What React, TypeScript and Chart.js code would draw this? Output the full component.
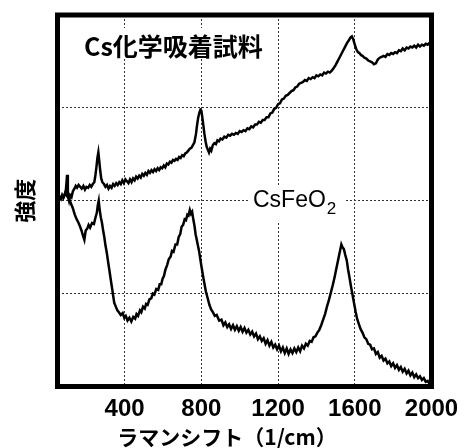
import React, { useEffect, useRef } from "react";
import { Chart, registerables } from "chart.js";

Chart.register(...registerables);

// ---- data ----
const xTickValues = [400, 800, 1200, 1600, 2000];
const yGridValues = [0, 1, 2, 3, 4];

const sampleLabel = "Cs化学吸着試料";
const csfeo2Label = "CsFeO";
const csfeo2Sub = "2";
const xTitle = "ラマンシフト（1/cm）";
const yTitle = "強度";

// Cs chemisorbed sample (upper trace)
const sampleShift = [
  55, 62, 68, 74, 80, 88, 94, 100, 104, 110, 116, 123, 130, 138, 145, 152, 160, 168, 176, 185,
  193, 201, 210, 218, 226, 234, 242, 248, 254, 258, 263, 268, 273, 278, 284, 292, 300, 308, 316, 324,
  332, 340, 348, 356, 364, 372, 380, 388, 396, 404, 412, 420, 428, 436, 444, 452, 460, 468, 476, 484,
  492, 500, 508, 516, 524, 532, 540, 548, 556, 564, 572, 580, 588, 596, 604, 612, 620, 628, 636, 644,
  652, 660, 668, 676, 684, 692, 700, 708, 716, 724, 732, 740, 748, 756, 764, 772, 778, 784, 790, 795,
  800, 805, 810, 816, 822, 828, 834, 840, 846, 852, 860, 868, 876, 884, 892, 900, 910, 920, 930, 940,
  950, 960, 970, 980, 990, 1000, 1010, 1020, 1030, 1040, 1050, 1060, 1070, 1080, 1090, 1100, 1110, 1120, 1130, 1140,
  1150, 1160, 1170, 1180, 1190, 1200, 1210, 1220, 1230, 1240, 1250, 1260, 1270, 1280, 1290, 1300, 1310, 1320, 1330, 1340,
  1350, 1360, 1370, 1380, 1390, 1400, 1410, 1420, 1430, 1440, 1450, 1460, 1470, 1480, 1490, 1500, 1510, 1520, 1530, 1540,
  1550, 1560, 1570, 1578, 1585, 1592, 1600, 1608, 1616, 1624, 1632, 1640, 1650, 1660, 1670, 1680, 1690, 1700, 1710, 1720,
  1730, 1740, 1750, 1760, 1770, 1780, 1790, 1800, 1810, 1820, 1830, 1840, 1850, 1860, 1870, 1880, 1890, 1900, 1910, 1920,
  1930, 1940, 1950, 1960, 1970, 1980, 1990, 2000,
];
const sampleIntensity = [
  2.02, 2.04, 2.02, 2.06, 2.03, 2.07, 2.12, 2.28, 2.05, 2.0, 2.06, 2.04, 2.1, 2.13, 2.16, 2.14, 2.17, 2.15, 2.13, 2.16,
  2.12, 2.15, 2.14, 2.17, 2.15, 2.18, 2.2, 2.28, 2.38, 2.46, 2.52, 2.42, 2.32, 2.24, 2.2, 2.18, 2.15, 2.17, 2.13, 2.16,
  2.14, 2.18, 2.16, 2.19, 2.17, 2.2, 2.18, 2.22, 2.19, 2.23, 2.21, 2.19, 2.23, 2.2, 2.24, 2.22, 2.26, 2.24, 2.27, 2.25,
  2.29, 2.27, 2.3, 2.28, 2.32, 2.3, 2.33, 2.31, 2.34, 2.32, 2.35, 2.33, 2.36, 2.35, 2.38, 2.36, 2.4, 2.39, 2.42, 2.41,
  2.44, 2.43, 2.45, 2.44, 2.47, 2.46, 2.49, 2.48, 2.51, 2.52, 2.54, 2.56, 2.57, 2.6, 2.63, 2.72, 2.82, 2.9, 2.95, 2.98,
  2.97, 2.9, 2.82, 2.72, 2.64, 2.58, 2.55, 2.52, 2.56, 2.54, 2.6, 2.62, 2.61, 2.65, 2.64, 2.67, 2.66, 2.69, 2.68, 2.71,
  2.7, 2.72, 2.71, 2.73, 2.72, 2.75, 2.74, 2.76, 2.75, 2.78, 2.77, 2.8, 2.79, 2.82, 2.82, 2.85, 2.84, 2.87, 2.87, 2.9,
  2.9, 2.94, 2.95, 2.99, 3.0, 3.04, 3.05, 3.09, 3.1, 3.13, 3.14, 3.16, 3.18, 3.19, 3.22, 3.23, 3.26, 3.27, 3.28, 3.3,
  3.29, 3.32, 3.31, 3.33, 3.32, 3.35, 3.34, 3.36, 3.35, 3.38, 3.37, 3.39, 3.38, 3.4, 3.43, 3.46, 3.5, 3.54, 3.58, 3.62,
  3.66, 3.7, 3.73, 3.76, 3.77, 3.74, 3.68, 3.63, 3.6, 3.59, 3.57, 3.56, 3.54, 3.53, 3.51, 3.5, 3.49, 3.47, 3.48, 3.52,
  3.54, 3.55, 3.56, 3.55, 3.58, 3.57, 3.59, 3.58, 3.6, 3.59, 3.62, 3.61, 3.64, 3.62, 3.65, 3.64, 3.66, 3.65, 3.67, 3.65,
  3.68, 3.66, 3.68, 3.67, 3.69, 3.68, 3.7, 3.69,
];

// CsFeO2 reference (lower trace)
const csfeo2Shift = [
  50, 60, 70, 80, 90, 100, 110, 120, 130, 140, 150, 160, 168, 175, 182, 190, 197, 205, 212, 220,
  230, 240, 248, 255, 260, 265, 270, 276, 282, 288, 294, 300, 307, 314, 320, 327, 333, 340, 346, 354,
  362, 370, 380, 390, 398, 406, 415, 425, 435, 445, 455, 462, 470, 480, 487, 496, 505, 512, 520, 530,
  539, 547, 555, 565, 575, 583, 591, 598, 605, 613, 622, 630, 640, 647, 655, 665, 674, 682, 690, 697,
  705, 713, 720, 727, 733, 740, 746, 752, 758, 765, 770, 775, 781, 788, 794, 800, 808, 815, 824, 833,
  842, 851, 860, 870, 880, 893, 905, 915, 925, 935, 945, 955, 965, 975, 985, 995, 1005, 1015, 1025, 1035,
  1045, 1055, 1065, 1075, 1085, 1095, 1105, 1115, 1125, 1135, 1145, 1155, 1165, 1175, 1185, 1195, 1205, 1215, 1225, 1235,
  1245, 1255, 1265, 1275, 1285, 1295, 1305, 1315, 1325, 1335, 1345, 1355, 1365, 1375, 1385, 1395, 1405, 1415, 1425, 1435,
  1445, 1455, 1465, 1475, 1485, 1495, 1505, 1515, 1522, 1530, 1536, 1543, 1550, 1558, 1565, 1572, 1580, 1588, 1596, 1604,
  1612, 1620, 1630, 1640, 1650, 1660, 1670, 1680, 1690, 1700, 1710, 1720, 1730, 1740, 1750, 1760, 1770, 1780, 1790, 1800,
  1810, 1820, 1830, 1840, 1850, 1860, 1870, 1880, 1890, 1900, 1910, 1920, 1930, 1940, 1950, 1960, 1970, 1980, 1990, 2000,
];
const csfeo2Intensity = [
  2.0, 2.01, 2.04, 2.03, 2.08, 2.05, 2.02, 1.97, 1.92, 1.85, 1.8, 1.76, 1.72, 1.68, 1.63, 1.58, 1.68, 1.7, 1.74, 1.71,
  1.76, 1.75, 1.82, 1.87, 1.95, 2.0, 1.9, 1.82, 1.76, 1.68, 1.61, 1.52, 1.44, 1.34, 1.26, 1.16, 1.08, 0.98, 0.9, 0.86,
  0.82, 0.8, 0.77, 0.79, 0.74, 0.76, 0.71, 0.74, 0.7, 0.75, 0.73, 0.78, 0.76, 0.82, 0.8, 0.86, 0.84, 0.89, 0.88, 0.94,
  0.95, 1.0, 0.99, 1.05, 1.04, 1.1, 1.1, 1.16, 1.19, 1.26, 1.31, 1.37, 1.4, 1.46, 1.45, 1.53, 1.53, 1.61, 1.64, 1.72,
  1.74, 1.8, 1.79, 1.85, 1.84, 1.9, 1.86, 1.88, 1.8, 1.72, 1.64, 1.59, 1.53, 1.46, 1.38, 1.3, 1.2, 1.12, 1.02, 0.95,
  0.88, 0.83, 0.8, 0.76, 0.77, 0.71, 0.72, 0.66, 0.69, 0.64, 0.67, 0.62, 0.66, 0.61, 0.65, 0.6, 0.64, 0.59, 0.63, 0.58,
  0.61, 0.56, 0.59, 0.54, 0.57, 0.51, 0.54, 0.49, 0.52, 0.46, 0.5, 0.44, 0.48, 0.42, 0.45, 0.4, 0.44, 0.38, 0.42, 0.36,
  0.41, 0.35, 0.4, 0.36, 0.41, 0.37, 0.42, 0.38, 0.44, 0.41, 0.46, 0.44, 0.49, 0.48, 0.53, 0.54, 0.58, 0.61, 0.66, 0.72,
  0.78, 0.86, 0.93, 1.01, 1.09, 1.18, 1.28, 1.38, 1.45, 1.53, 1.5, 1.48, 1.42, 1.36, 1.26, 1.18, 1.08, 0.99, 0.9, 0.81,
  0.73, 0.68, 0.62, 0.58, 0.53, 0.51, 0.46, 0.45, 0.4, 0.41, 0.35, 0.37, 0.31, 0.33, 0.28, 0.3, 0.25, 0.27, 0.22, 0.25,
  0.2, 0.23, 0.18, 0.21, 0.16, 0.19, 0.14, 0.17, 0.12, 0.15, 0.1, 0.13, 0.09, 0.11, 0.07, 0.09, 0.05, 0.06, 0.03, 0.03,
];

const toPoints = (xs: number[], ys: number[]) => xs.map((x, i) => ({ x, y: ys[i] }));

const overlayPlugin = {
  id: "overlay",
  beforeDatasetsDraw(chart: any) {
    const ctx = chart.ctx as CanvasRenderingContext2D;
    ctx.save();
    // white boxes behind the in-plot labels
    ctx.fillStyle = "#ffffff";
    ctx.fillRect(82, 28, 190, 31);
    ctx.fillRect(250, 187, 96, 35);
    ctx.fillStyle = "#000000";
    ctx.textAlign = "left";
    ctx.textBaseline = "middle";
    ctx.font = 'bold 25px "Noto Sans CJK JP"';
    ctx.fillText(sampleLabel, 84, 46);
    ctx.textBaseline = "alphabetic";
    ctx.font = '23px "Liberation Sans"';
    ctx.fillText(csfeo2Label, 253, 207);
    const w = ctx.measureText(csfeo2Label).width;
    ctx.font = '17px "Liberation Sans"';
    ctx.fillText(csfeo2Sub, 253 + w + 1, 214);
    ctx.restore();
  },
  afterDraw(chart: any) {
    const ctx = chart.ctx as CanvasRenderingContext2D;
    const a = chart.chartArea;
    ctx.save();
    ctx.strokeStyle = "#000000";
    ctx.lineWidth = 5;
    ctx.strokeRect(a.left, a.top, a.right - a.left, a.bottom - a.top);
    ctx.fillStyle = "#000000";
    ctx.textAlign = "center";
    ctx.textBaseline = "middle";
    ctx.font = 'bold 21px "Noto Sans CJK JP"';
    ctx.fillText(xTitle, 227, 437);
    ctx.translate(25, (a.top + a.bottom) / 2);
    ctx.rotate(-Math.PI / 2);
    ctx.font = 'bold 22px "Noto Sans CJK JP"';
    ctx.fillText(yTitle, 0, 0);
    ctx.restore();
  },
};

export default function App() {
  const canvasRef = useRef<HTMLCanvasElement | null>(null);

  useEffect(() => {
    if (!canvasRef.current) return;
    const chart = new Chart(canvasRef.current, {
      type: "line",
      data: {
        datasets: [
          {
            label: sampleLabel,
            data: toPoints(sampleShift, sampleIntensity),
            borderColor: "#000000",
            borderWidth: 2.5,
            pointRadius: 0,
            tension: 0,
            fill: false,
          },
          {
            label: "CsFeO2",
            data: toPoints(csfeo2Shift, csfeo2Intensity),
            borderColor: "#000000",
            borderWidth: 2.5,
            pointRadius: 0,
            tension: 0,
            fill: false,
          },
        ],
      },
      options: {
        animation: false,
        responsive: false,
        devicePixelRatio: 1,
        layout: { padding: { left: 0, right: 36.5, top: 15, bottom: 0 } },
        plugins: {
          legend: { display: false },
          tooltip: { enabled: false },
          title: { display: false },
        },
        scales: {
          x: {
            type: "linear",
            min: 50,
            max: 2000,
            afterBuildTicks: (scale: any) => {
              scale.ticks = xTickValues.map((v) => ({ value: v }));
            },
            afterFit: (scale: any) => {
              scale.height = 61.5;
            },
            border: { display: false, dash: [2, 2] },
            grid: {
              color: "#333333",
              lineWidth: 1,
              drawTicks: false,
              borderDash: [2, 2],
            },
            ticks: {
              padding: 8,
              color: "#000000",
              maxRotation: 0,
              autoSkip: false,
              callback: (v: any) => String(v),
              font: { family: '"Liberation Sans"', size: 24, weight: "bold" },
            },
          },
          y: {
            type: "linear",
            min: 0,
            max: 4,
            afterBuildTicks: (scale: any) => {
              scale.ticks = yGridValues.map((v) => ({ value: v }));
            },
            afterFit: (scale: any) => {
              scale.width = 57.5;
            },
            border: { display: false, dash: [2, 2] },
            grid: { color: "#333333", lineWidth: 1, drawTicks: false, borderDash: [2, 2] },
            ticks: { display: false },
          },
        },
      },
      plugins: [overlayPlugin],
    } as any);
    return () => chart.destroy();
  }, []);

  return (
    <div style={{ position: "fixed", left: 0, top: 0, width: 468, height: 448, background: "#fff" }}>
      <canvas ref={canvasRef} width={468} height={448} />
    </div>
  );
}
